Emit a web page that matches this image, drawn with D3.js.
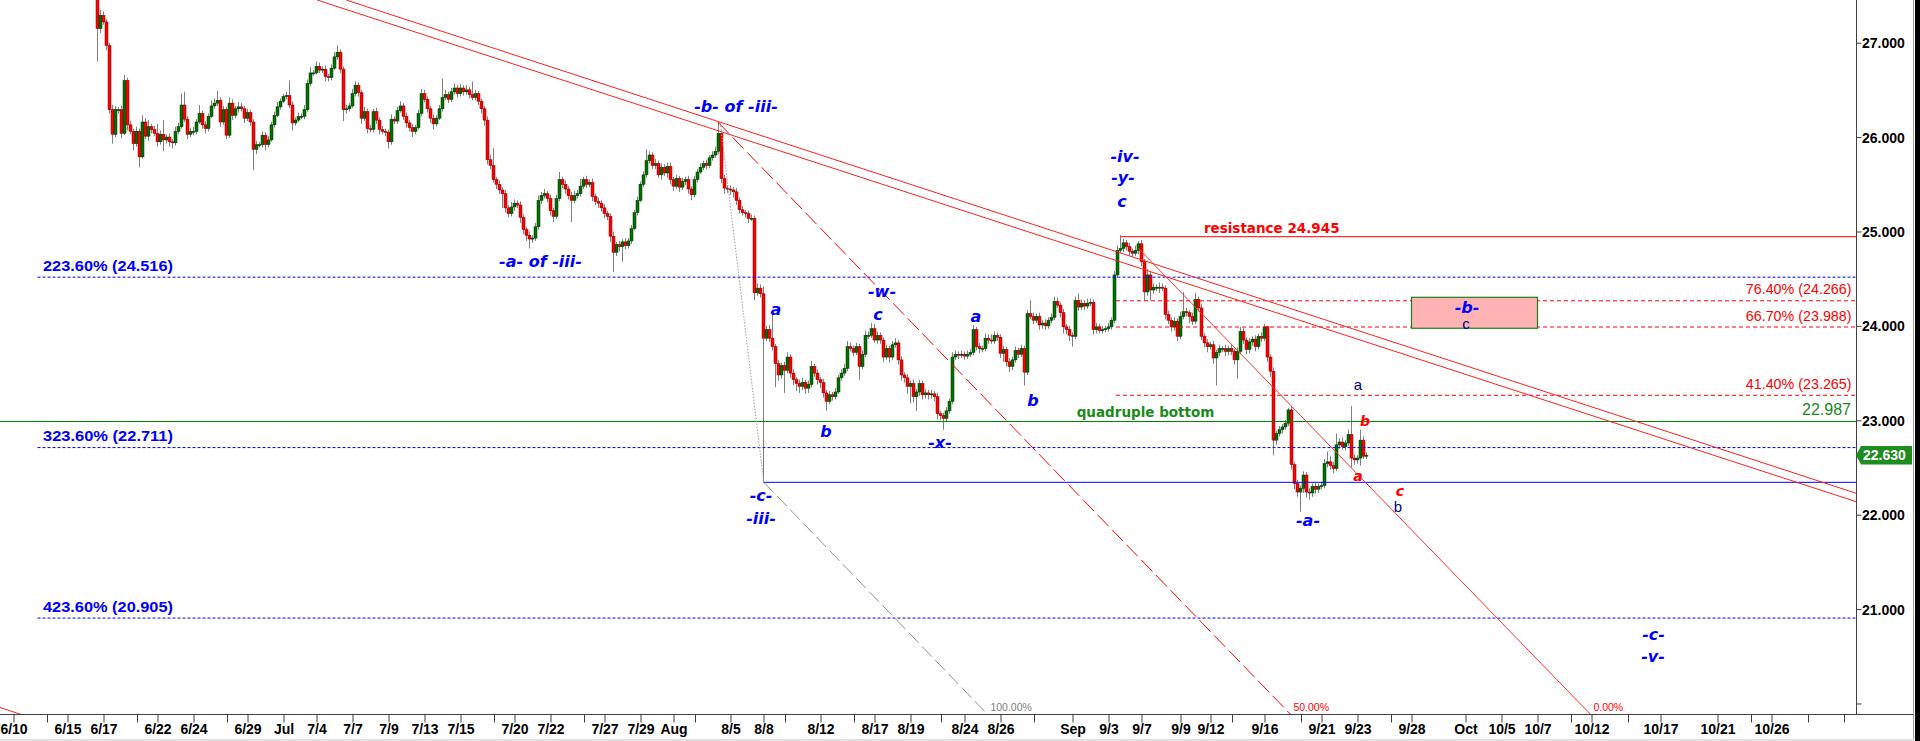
<!DOCTYPE html>
<html><head><meta charset="utf-8">
<script src="https://cdn.jsdelivr.net/npm/d3@7"></script>
<style>html,body{margin:0;padding:0;background:#fff;overflow:hidden}svg{display:block}</style>
</head><body>
<svg id="c" width="1920" height="741"></svg>
<script>
// ---------------- DATA ----------------
const firstBar = 17;          // bar index of first visible 4H candle
const firstOpen = 27.60;
const closesJune = [27.15,27.29,27.22,26.97,26.29,26.03,26.29,26.29,26.04,26.60,
26.13,26.06,25.93,26.06,25.79,26.16,26.01,26.11,26.08,26.04,
25.95,26.03,25.97,26.00,25.95,25.94,26.06,26.11,26.34,26.19,
26.03,26.06,26.06,26.16,26.25,26.13,26.09,26.22,26.33,26.36,
26.39,26.16,26.29,26.02,26.36,26.23,26.30,26.32,26.30,26.20,
26.26,26.16,25.87,25.92,25.92,26.02,25.92,25.97,26.13,26.23,
26.32,26.38];
const closesJuly = [26.43,26.44,26.34,26.15,26.18,26.22,26.22,26.29,26.57,26.68,
26.68,26.75,26.71,26.72,26.64,26.63,26.73,26.85,26.90,26.72,
26.29,26.30,26.33,26.46,26.55,26.47,26.20,26.27,26.09,26.08,
26.27,26.18,26.08,26.06,26.05,25.95,26.19,26.17,26.28,26.33,
26.22,26.15,26.10,26.06,26.10,26.25,26.46,26.40,26.30,26.20,
26.14,26.20,26.30,26.42,26.45,26.40,26.48,26.52,26.46,26.52,
26.48,26.50,26.45,26.42,26.46,26.38,26.30,26.18,25.76,25.70,
25.55,25.50,25.44,25.40,25.25,25.19,25.26,25.30,25.28,25.15,
25.02,24.96,24.92,24.93,25.05,25.33,25.38,25.40,25.35,25.22,
25.16,25.35,25.55,25.50,25.45,25.38,25.33,25.38,25.40,25.48,
25.55,25.50,25.52,25.37,25.32,25.30,25.25,25.19,25.16,24.95,
24.78,24.86,24.84,24.89,24.85,24.90,25.03,25.20,25.33,25.50,
25.60,25.75,25.81,25.70,25.72,25.60,25.68,25.62,25.69,25.55];
const closesAug = [25.48,25.56,25.47,25.53,25.55,25.45,25.39,25.55,25.63,25.68,
25.72,25.70,25.78,25.81,25.85,26.04,25.56,25.46,25.45,25.44,
25.42,25.33,25.23,25.20,25.19,25.14,25.14,24.35,24.40,24.34,
23.87,23.96,23.87,23.78,23.60,23.48,23.58,23.53,23.67,23.50,
23.43,23.39,23.36,23.40,23.34,23.38,23.57,23.50,23.43,23.40,
23.29,23.20,23.27,23.25,23.30,23.45,23.50,23.55,23.78,23.76,
23.72,23.78,23.57,23.70,23.90,23.90,23.97,23.85,23.90,23.85,
23.67,23.76,23.67,23.80,23.82,23.64,23.48,23.45,23.36,23.39,
23.25,23.30,23.39,23.27,23.29,23.27,23.28,23.25,23.07,23.05,
23.02,23.10,23.20,23.67,23.70,23.69,23.70,23.68,23.70,23.72,
23.96,23.78,23.76,23.76,23.87,23.85,23.84,23.90,23.88,23.71,
23.75,23.62,23.57,23.64,23.74,23.70,23.76,23.51,24.13,24.10,
24.06,24.10,24.01,24.03,24.00,24.06,24.09,24.26,24.22,24.14,
23.99,23.96,23.90];
const closesSep = [23.89,24.27,24.20,24.24,24.21,24.24,24.25,23.96,23.99,23.95,
23.96,23.97,23.99,24.06,24.54,24.80,24.82,24.88,24.84,24.79,
24.77,24.80,24.87,24.68,24.36,24.54,24.38,24.41,24.41,24.41,
24.40,24.12,24.06,23.99,24.05,23.89,24.10,24.15,24.14,24.10,
24.05,24.28,24.19,23.89,23.82,23.78,23.80,23.66,23.72,23.76,
23.76,23.73,23.76,23.73,23.64,23.73,23.94,23.85,23.75,23.83,
23.86,23.78,23.89,23.87,23.99,23.67,23.52,22.79,22.86,22.90,
22.93,22.97,23.11,22.53,22.33,22.24,22.28,22.42,22.24,22.23,
22.30,22.27,22.30,22.31,22.54,22.56,22.52,22.49,22.74,22.77,
22.72,22.76,22.85,22.60,22.58,22.60,22.79,22.62,22.63];
// upper / lower wick length beyond the body, in cents
const upWickJune = [20,6,4,3,3,5,4,3,4,6, 3,4,3,5,3,7,4,7,3,4, 10,4,15,3,4,3,5,4,12,14, 3,4,5,3,9,3,4,3,6,5, 10,3,4,3,6,4,3,5,4,3, 4,3,3,4,3,4,3,4,3,4, 5,3];
const loWickJune = [35,5,3,5,4,10,3,4,5,2, 6,3,7,3,11,2,3,5,4,3, 5,3,12,4,5,6,3,3,2,3, 5,3,4,3,2,4,5,3,2,3, 3,5,3,4,3,5,3,4,3,5, 3,4,22,5,3,3,6,3,2,3, 2,3];
const upWickJuly = [3,4,16,4,3,4,3,5,4,6, 3,5,4,3,4,3,4,5,7,3, 3,4,3,5,4,3,3,5,3,4, 3,4,3,4,3,3,5,3,4,5, 3,4,3,4,3,4,5,4,3,3, 4,3,4,20,5,3,4,5,3,4, 3,5,3,14,4,3,3,3,4,5, 18,3,4,3,4,3,5,4,3,4, 3,3,4,3,4,5,4,5,3,4, 3,4,8,3,4,3,4,5,4,8, 3,4,3,4,3,4,3,4,3,3, 5,3,4,3,4,3,4,3,4,3, 4,12,4,3,5,3,4,3,4,4];
const loWickJuly = [2,3,3,8,3,2,3,3,2,3, 3,2,3,3,5,4,3,2,3,4, 12,4,3,2,3,4,6,3,5,3, 3,4,5,3,4,7,3,3,3,2, 4,5,4,6,3,2,3,3,4,5, 6,3,2,3,3,4,3,3,4,3, 4,3,4,3,3,4,5,6,5,4, 3,5,4,15,5,4,3,4,3,6, 5,6,10,4,3,3,4,3,4,5, 6,3,3,4,5,4,23,3,3,3, 3,4,3,5,4,5,4,5,4,6, 21,4,5,16,4,3,3,2,3,2, 3,3,3,4,4,3,5,3,5,5];
const upWickAug = [3,4,3,4,3,4,3,4,3,4, 3,4,3,4,5,12,3,4,3,4, 3,4,3,4,3,3,4,3,5,4, 8,4,5,30,3,4,3,4,5,3, 4,3,4,5,3,4,6,3,4,3, 4,3,4,3,4,3,4,5,6,4, 3,4,3,4,5,4,6,5,4,3, 3,4,3,4,5,3,4,3,4,3, 4,3,4,3,4,3,4,3,4,3, 3,4,3,5,4,3,4,3,4,3, 5,3,4,3,5,4,6,4,3,3, 4,3,4,3,4,3,4,3,4,14, 4,3,4,3,4,3,4,5,4,3, 4,3,4];
const loWickAug = [5,3,5,3,4,5,6,3,3,2, 3,4,3,3,3,3,5,6,4,5, 6,5,4,3,4,5,3,8,3,4, 153,3,4,4,25,6,4,24,3,5, 6,8,7,4,6,5,3,4,5,6, 5,10,3,4,3,2,3,3,3,3, 4,3,14,3,3,4,3,3,4,4, 5,3,6,3,3,5,6,5,8,18, 6,15,4,5,4,5,4,5,6,5, 12,4,3,3,3,4,3,4,3,3, 3,4,5,4,3,4,3,3,4,5, 9,5,6,4,3,4,3,14,3,3, 4,3,5,4,4,3,3,3,3,5, 7,5,6];
const upWickSep = [3,4,7,4,3,5,4,3,4,3, 4,3,4,3,4,5,14,4,3,4, 3,5,3,4,3,6,3,4,3,5, 4,3,4,3,4,3,5,21,4,3, 4,7,3,4,3,4,3,4,3,4, 3,4,3,4,3,4,5,4,3,4, 3,4,3,4,3,1,3,4,3,4, 3,3,2,4,3,4,3,4,3,4, 3,4,3,4,5,11,6,4,12,4, 5,3,5,30,4,3,11,4,3];
const loWickSep = [11,3,4,3,4,3,3,5,4,3, 3,3,3,3,3,3,3,4,4,5, 4,3,4,5,9,4,11,4,4,6, 3,5,4,5,4,5,3,3,4,7, 4,3,4,4,5,6,3,6,29,4, 4,5,4,4,5,20,3,4,5,4, 4,5,3,4,3,5,6,16,5,3, 4,3,3,5,6,5,21,5,6,7, 4,5,4,3,3,4,4,5,3,4, 3,4,3,10,5,4,8,3,3];

const dateTicks = [[-11,"6/10"],[7,"6/15"],[19,"6/17"],[37,"6/22"],[49,"6/24"],[67,"6/29"],[79,"Jul"],[90,"7/4"],[102,"7/7"],[114,"7/9"],[126,"7/13"],[138,"7/15"],[156,"7/20"],[168,"7/22"],[186,"7/27"],[198,"7/29"],[209,"Aug"],[228,"8/5"],[239,"8/8"],[258,"8/12"],[276,"8/17"],[288,"8/19"],[306,"8/24"],[318,"8/26"],[342,"Sep"],[354,"9/3"],[365,"9/7"],[378,"9/9"],[388,"9/12"],[406,"9/16"],[425,"9/21"],[437,"9/23"],[455,"9/28"],[473,"Oct"],[485,"10/5"],[497,"10/7"],[515,"10/12"],[538,"10/17"],[557,"10/21"],[575,"10/26"]];
const weekTicks = [0,30,60,149,179,216,246,269,298,329,395,418,448,508,527,568,587,599];
const priceTicks = [20,21,22,23,24,25,26,27];
const lastPrice = 22.630;

const fibBlue = [24.516, 22.711, 20.905];
const fibBlueLabels = ["223.60% (24.516)","323.60% (22.711)","423.60% (20.905)"];
const fibRed = [24.266, 23.988, 23.265];
const fibRedLabels = ["76.40% (24.266)","66.70% (23.988)","41.40% (23.265)"];
const resistance = 24.945;
const quadBottom = 22.987;
const cLow = 22.343;

// trend lines: [barIndex, price] anchor pairs
const trendA = [[99.9, 27.452],[603.2, 22.227]];
const trendB = [[90.2, 27.452],[603.2, 22.138]];
const trendC = [[-15.5, 19.958],[-8.2, 19.881]];
const fibChannel = [
  {label:"100.00%", from:[239.1,22.343], to:[313.8,19.881]},
  {label:"50.00%",  from:[223.8,26.159], to:[414.8,19.881]},
  {label:"0.00%",   from:[363.8,24.826], to:[514.8,19.881]}
];
const bToC = [[224.6,26.153],[239.1,22.343]];
const targetBox = {i0:455, i1:497, top:24.303, bottom:23.975};

const waveLabels = [
  ["-b- of -iii-",229.83,26.266],["-a- of -iii-",164.67,24.624],["-c-",238.17,22.145],["-iii-",238.17,21.901],
  ["a",243.17,24.116],["b",259.83,22.824],["-w-",278.5,24.306],["c",277.17,24.063],["-x-",297.83,22.707],
  ["a",309.83,24.041],["b",328.83,23.151],["-iv-",359.5,25.736],["-y-",358.83,25.514],["c",358.5,25.260],
  ["-a-",420.5,21.880],["-b-",473.5,24.137],["-c-",535.7,20.673],["-v-",535.5,20.443]
];
const navyLabels = [["c",473.17,23.967],["a",437.17,23.321],["b",450.5,22.032]];
const redLabels = [["b",439.5,22.940],["a",437.17,22.360],["c",451.17,22.198]];

// ---------------- CHART ----------------
const svg = d3.select('#c');
svg.append('rect').attr('width',1920).attr('height',741).attr('fill','#fff');
const x = d3.scaleLinear().domain([-15.5, 621.8333]).range([0, 1912]);
const y = d3.scaleLinear().domain([19.8813, 27.4523]).range([714.7, 0]);
const BLUE='#0000ff', NAVY='#000080', RED='#ff0000', GREEN='#008000';

svg.append('defs').append('clipPath').attr('id','plot')
  .append('rect').attr('x',0).attr('y',0).attr('width',1856).attr('height',714.7);
const plot = svg.append('g').attr('clip-path','url(#plot)');

// candles
const closes = [...closesJune, ...closesJuly, ...closesAug, ...closesSep];
const upW = [...upWickJune, ...upWickJuly, ...upWickAug, ...upWickSep];
const loW = [...loWickJune, ...loWickJuly, ...loWickAug, ...loWickSep];
const bars = closes.map((c,k)=>{
  const i = firstBar + k;
  const o = k===0 ? firstOpen : closes[k-1];
  return {i, o, c, h: Math.max(o,c) + (upW[k]||0)/100, l: Math.min(o,c) - (loW[k]||0)/100};
});
const cg = plot.append('g');
cg.selectAll('line.w').data(bars).join('line').attr('class','w')
  .attr('x1',d=>x(d.i)).attr('x2',d=>x(d.i)).attr('y1',d=>y(d.h)).attr('y2',d=>y(d.l))
  .attr('stroke','#808080').attr('stroke-width',1);
cg.selectAll('rect.b').data(bars).join('rect').attr('class','b')
  .attr('x',d=>x(d.i)-1.5).attr('width',3)
  .attr('y',d=>y(Math.max(d.o,d.c)))
  .attr('height',d=>Math.max(1, Math.abs(y(d.o)-y(d.c))))
  .attr('fill',d=>d.c>=d.o?'#007000':'#ff0000')
  .attr('stroke',d=>d.c>=d.o?'#003000':'#800000').attr('stroke-width',0.5);

// helper line
function seg(g, a, b, color, dash, w){
  return g.append('line').attr('x1',x(a[0])).attr('y1',y(a[1])).attr('x2',x(b[0])).attr('y2',y(b[1]))
    .attr('stroke',color).attr('stroke-width',w||1).attr('stroke-dasharray',dash||null);
}
const lg = plot.append('g');
fibBlue.forEach(p=>seg(lg,[-3,p],[621,p],BLUE,'3,2'));
fibRed.forEach(p=>seg(lg,[356.5,p],[621,p],RED,'4,3'));
seg(lg,[358,resistance],[621,resistance],RED);
seg(lg,[-15.5,quadBottom],[621,quadBottom],GREEN);
seg(lg,[239.1,cLow],[621,cLow],BLUE);
seg(lg,trendA[0],trendA[1],'#ff2020');
seg(lg,trendB[0],trendB[1],'#ff2020');
seg(lg,trendC[0],trendC[1],'#ff2020');
seg(lg,bToC[0],bToC[1],'#a0a0a0','1.5,1.5');
seg(lg,fibChannel[0].from,fibChannel[0].to,'#909090','14,5');
seg(lg,fibChannel[1].from,fibChannel[1].to,RED,'16,5');
seg(lg,fibChannel[2].from,fibChannel[2].to,'#ff3030');
lg.append('rect').attr('x',x(targetBox.i0)).attr('y',y(targetBox.top))
  .attr('width',x(targetBox.i1)-x(targetBox.i0)).attr('height',y(targetBox.bottom)-y(targetBox.top))
  .attr('fill','#ffb4b4').attr('stroke','#1a801a').attr('stroke-width',1.2);

// texts
const tg = svg.append('g');
const AR = 'Arial, "Liberation Sans", sans-serif';
const DV = '"DejaVu Sans", Verdana, sans-serif';
fibBlue.forEach((p,k)=>tg.append('text').attr('x',43).attr('y',y(p)-6.5).text(fibBlueLabels[k])
  .attr('font-family',AR).attr('font-weight','bold').attr('font-size',15.5).attr('fill',BLUE)
  .attr('textLength',130).attr('lengthAdjust','spacingAndGlyphs'));
fibRed.forEach((p,k)=>tg.append('text').attr('x',1851.5).attr('y',y(p)-6.3).attr('text-anchor','end').text(fibRedLabels[k])
  .attr('font-family',AR).attr('font-size',14.3).attr('fill',RED));
tg.append('text').attr('x',1851).attr('y',y(quadBottom)-6.3).attr('text-anchor','end').text(quadBottom.toFixed(3))
  .attr('font-family',AR).attr('font-size',16).attr('fill','#1a8a1a');
tg.append('text').attr('x',x(343.4)).attr('y',y(quadBottom)-4.5).text('quadruple bottom')
  .attr('font-family',DV).attr('font-weight','bold').attr('font-size',13.5).attr('fill','#1a8a1a');
tg.append('text').attr('x',x(385.8)).attr('y',y(resistance)-3.6).text('resistance '+resistance.toFixed(3))
  .attr('font-family',DV).attr('font-weight','bold').attr('font-size',13.5).attr('fill',RED);
fibChannel.forEach(f=>tg.append('text').attr('x',x(f.to[0])+2.5).attr('y',711).text(f.label)
  .attr('font-family',AR).attr('font-size',10.5).attr('fill',f.label==='100.00%'?'#808080':RED));

tg.selectAll('text.wave').data(waveLabels).join('text').attr('class','wave')
  .attr('x',d=>x(d[1])).attr('y',d=>y(d[2])).attr('text-anchor','middle').text(d=>d[0])
  .attr('font-family',DV).attr('font-weight','bold').attr('font-style','italic').attr('font-size',16).attr('fill',BLUE);
tg.selectAll('text.navy').data(navyLabels).join('text').attr('class','navy')
  .attr('x',d=>x(d[1])).attr('y',d=>y(d[2])).attr('text-anchor','middle').text(d=>d[0])
  .attr('font-family',AR).attr('font-size',15).attr('fill',NAVY);
tg.selectAll('text.redl').data(redLabels).join('text').attr('class','redl')
  .attr('x',d=>x(d[1])).attr('y',d=>y(d[2])).attr('text-anchor','middle').text(d=>d[0])
  .attr('font-family',DV).attr('font-weight','bold').attr('font-style','italic').attr('font-size',14).attr('fill',RED);

// axes
const ax = svg.append('g');
ax.append('line').attr('x1',1856.5).attr('x2',1856.5).attr('y1',0).attr('y2',715).attr('stroke','#404040');
ax.append('line').attr('x1',0).attr('x2',1913).attr('y1',714.5).attr('y2',714.5).attr('stroke','#404040');
const yAxis = d3.axisRight(y).tickValues(priceTicks).tickSize(5).tickSizeOuter(0)
  .tickFormat(d=> d>=21 ? d3.format('.3f')(d) : '');
const yg = ax.append('g').attr('transform','translate(1856.5,0)').call(yAxis);
yg.select('.domain').remove();
yg.selectAll('line').attr('stroke','#404040');
yg.selectAll('text').attr('font-family',AR).attr('font-weight','bold').attr('font-size',14).attr('fill','#000')
  .attr('x',5.5).attr('dy','0.35em');
const xAxis = d3.axisBottom(x).tickValues(dateTicks.map(d=>d[0])).tickSize(8).tickSizeOuter(0)
  .tickFormat((d,k)=>dateTicks[k][1]);
const xg = ax.append('g').attr('transform','translate(0,714.5)').call(xAxis);
xg.select('.domain').remove();
xg.selectAll('line').attr('stroke','#404040');
xg.selectAll('text').attr('font-family',AR).attr('font-weight','bold').attr('font-size',14).attr('fill','#000')
  .attr('y',10).attr('dy','0.71em');
ax.selectAll('line.wk').data(weekTicks).join('line').attr('class','wk')
  .attr('x1',d=>Math.round(x(d))+0.5).attr('x2',d=>Math.round(x(d))+0.5).attr('y1',714.5).attr('y2',722.5).attr('stroke','#404040');

// last price tag
const ly = y(lastPrice);
ax.append('path').attr('d',`M1856,${ly} L1861,${ly-9.2} L1912,${ly-9.2} L1912,${ly+9.2} L1861,${ly+9.2} Z`).attr('fill','#1e8c1e');
ax.append('text').attr('x',1863).attr('y',ly+5).text(lastPrice.toFixed(3))
  .attr('font-family',AR).attr('font-weight','bold').attr('font-size',14).attr('fill','#fff');

// frame right / bottom
ax.append('line').attr('x1',1913.5).attr('x2',1913.5).attr('y1',0).attr('y2',741).attr('stroke','#a0a0a0');
ax.append('rect').attr('x',1915).attr('y',0).attr('width',5).attr('height',741).attr('fill','#000');
ax.append('rect').attr('x',0).attr('y',739).attr('width',1914).attr('height',2).attr('fill','#e0e0e0');
</script>
</body></html>
